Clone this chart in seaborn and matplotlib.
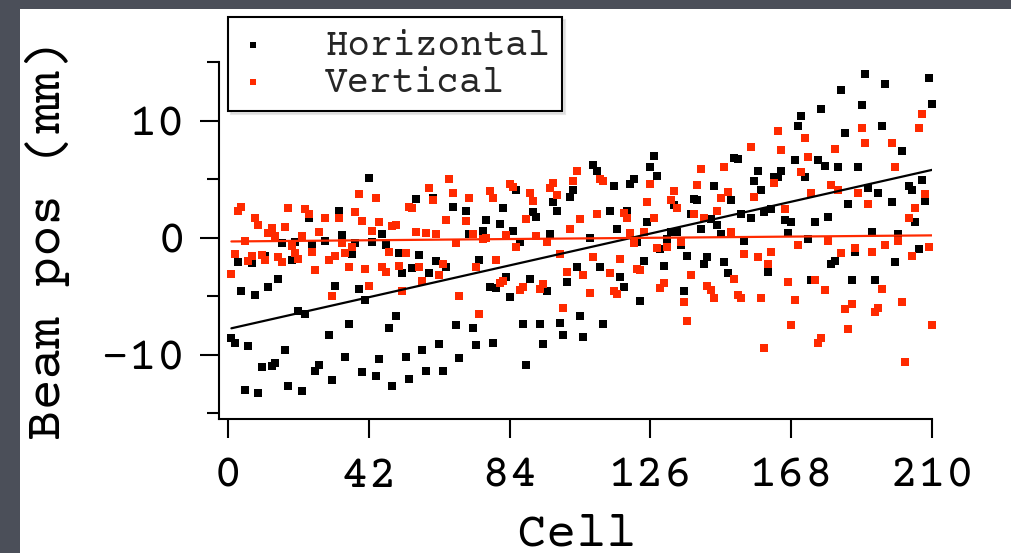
import matplotlib.pyplot as plt
import matplotlib.patches as mpatches
from matplotlib import font_manager
import pandas as pd
import seaborn as sns

# cell index and beam position (mm)
h_cell = [*range(1, 28), *range(29, 66), *range(67, 70), *range(71, 107),
          *range(108, 113), *range(114, 155), *range(156, 197),
          *range(198, 202), *range(203, 211)]
h_pos = [
    -8.6, -9.0, -2.1, -4.6, -13.0, -9.3, -2.2, -4.9, -13.3, -11.1,
    -1.6, -4.2, -11.0, -10.7, -3.5, -0.5, -9.6, -12.7, -1.9, -0.4,
    -6.3, -13.1, -6.5, 1.7, -0.6, -11.4, -10.9,
    -0.3, -8.3, -12.2, -4.1, 2.3, 0.2, -10.2, -7.4, -1.4, -0.5,
    -4.4, -11.5, -5.3, 5.1, -0.4, -11.8, -10.4, 0.3, -0.6, -7.7,
    -12.7, -6.7, -1.3, -3.0, -10.2, -12.1, -2.6, 3.3, -1.5, -9.6,
    -11.4, -3.0, 3.4, -2.0, -9.1, -11.4, -2.5,
    2.6, -7.5, -10.3,
    2.3, 0.3, -7.7, -9.2, -1.9, 0.6, 1.5, -4.2, -9.0, -4.3,
    1.2, 2.5, -3.4, -5.1, 0.6, 4.1, -0.4, -7.4, -10.9, -3.5,
    2.2, 1.8, -7.4, -9.1, -4.6, 0.3, 3.0, 2.3, -7.3, -8.3,
    -3.8, 3.5, 4.1, -2.5, -6.7, -8.5,
    0.0, 6.2, 5.7, -2.5, -7.4,
    2.3, 4.4, 0.7, -3.4, -4.2, 2.3, 4.6, 5.0, -0.4, -5.4,
    -2.0, 1.3, 6.0, 7.0, 5.3, -1.0, -2.4, -0.1, 0.5, 2.8,
    0.5, -0.6, -4.6, -1.6, 2.0, 3.3, 3.2, 0.7, -2.3, -1.7,
    1.6, 4.4, 1.1, 0.3, -2.1, -3.0, 3.2, 6.8, 6.7, 2.0, -0.3,
    1.7, 4.8, 5.7, 4.1, 2.2, -2.9, 2.4, 5.2, 5.2, 5.7,
    1.5, 0.4, 1.3, 6.6, 9.5, 10.4, 5.2, -0.1, -3.6, 1.3,
    6.6, 11.0, 6.1, 1.8, -2.3, -2.0, 6.0, 12.6, 8.9, 2.9,
    -3.6, -1.2, 6.0, 11.3, 14.0, 4.2, 0.5, -3.6, 3.8, 9.5, 13.1,
    3.0, -2.1, 0.3, 7.4,
    4.4, 4.1, 1.3, -1.0, 4.9, 3.1, 13.6, 11.4,
]

v_cell = [*range(1, 28), *range(29, 70), *range(71, 107), *range(108, 113),
          *range(114, 155), *range(156, 197), *range(198, 211)]
v_pos = [
    -3.1, -1.4, 2.3, 2.6, -0.3, -2.0, -1.6, 1.7, 1.1, -1.5,
    -1.9, 0.4, 0.8, 0.1, -1.7, -2.1, 0.9, 2.5, -0.7, -1.3,
    -1.8, 0.1, 2.4, 2.0, -1.2, -2.8, 0.5,
    1.7, -1.9, -5.0, -1.6, 1.7, -0.5, -1.3, -2.5, -0.8, 2.2,
    3.7, 1.4, -2.7, -4.1, 0.6, 3.4, 1.3, -2.5, -2.9, -1.2,
    1.0, 1.1, -2.4, -4.6, -1.3, 2.6, 2.5, 0.5, -2.5, -3.7,
    0.4, 4.2, 3.2, 0.3, -3.2, -2.3, 1.5, 5.0, 3.8, -0.5, -5.0,
    1.4, 3.4, 0.3, -2.5, -6.5, -0.1, 0.0, 4.0, 3.4, -1.9,
    -3.9, -3.7, 0.2, 4.6, 4.3, -0.8, -4.5, -4.2, 1.6, 3.8,
    3.1, 0.1, -4.4, -4.0, -0.4, 4.2, 4.7, 3.6, -1.4, -6.0,
    -2.9, 0.7, 4.8, 5.7, 1.6, -3.2,
    -4.7, -1.7, 2.0, 5.0, 4.8,
    -3.0, -4.6, -4.8, -1.8, 2.1, 1.7, 0.4, -0.5, -2.7, -2.8,
    0.5, 3.0, 4.6, 1.7, -0.9, -4.3, -3.9, -0.8, 3.2, 4.0,
    2.5, -0.4, -5.5, -7.1, -3.2, 2.0, 4.5, 5.9, 1.7, -4.1,
    -4.5, -5.2, 2.3, 3.4, 6.0, 3.9, 0.5, -3.5, -4.9, -5.2, -1.4,
    7.7, 3.5, -1.7, -5.2, -9.4, -2.3, -1.2, 4.7, 9.1, 7.5,
    2.4, -3.8, -7.5, -5.3, -0.6, 5.6, 8.5, 6.9, 3.8, -3.6,
    -9.0, -8.6, -4.5, -0.3, 4.5, 7.6, 4.1, -1.3, -6.1, -7.8,
    -5.7, -0.9, 3.8, 9.4, 8.1, 2.9, -1.2, -6.4, -6.0, -4.4, -0.6,
    8.1, 6.0, -0.3, -5.5, -10.6, 1.7, -1.6, 2.5, 9.4, 10.6, 3.7, -0.8, -7.5,
]

x_ticks = [0, 42, 84, 126, 168, 210]
y_ticks = [-10, 0, 10]
y_minor = [-15, -5, 5, 15]

RED = "#ff2a00"

sns.set_style("ticks")
installed = {f.name for f in font_manager.fontManager.ttflist}
mono = [n for n in ["Courier Prime", "Nimbus Mono PS", "Liberation Mono",
                    "Cousine", "DejaVu Sans Mono"] if n in installed]
plt.rcParams["font.family"] = mono + ["DejaVu Sans"]

h_df = pd.DataFrame({"cell": h_cell, "pos": h_pos})
v_df = pd.DataFrame({"cell": v_cell, "pos": v_pos})

W, H = 1012, 553
fig = plt.figure(figsize=(W / 100, H / 100), dpi=100, facecolor="#4b4f59")
fig.patches.append(
    mpatches.Rectangle((20 / W, 0), 1, 1 - 9 / H, transform=fig.transFigure,
                       facecolor="white", edgecolor="none", zorder=-5)
)
ax = fig.add_axes([219 / W, 1 - 419 / H, 713 / W, 357 / H])
ax.set_facecolor("white")

sns.scatterplot(data=h_df, x="cell", y="pos", color="black", marker="s", s=33,
                linewidth=0, clip_on=False, label="Horizontal", ax=ax)
sns.scatterplot(data=v_df, x="cell", y="pos", color=RED, marker="s", s=33,
                linewidth=0, clip_on=False, label="Vertical", ax=ax)
sns.regplot(data=h_df, x="cell", y="pos", scatter=False, ci=None, color="black",
            line_kws={"linewidth": 1.6}, ax=ax)
sns.regplot(data=v_df, x="cell", y="pos", scatter=False, ci=None, color=RED,
            line_kws={"linewidth": 1.6}, ax=ax)

ax.set_xlim(-2.7, 210)
ax.set_ylim(-15.5, 15)
ax.set_xticks(x_ticks)
ax.set_yticks(y_ticks)
ax.set_yticks(y_minor, minor=True)
ax.set_xlabel("")
ax.set_ylabel("")
ax.tick_params(which="major", direction="out", length=14, width=1.5,
               labelsize=34, color="black", labelcolor="black")
ax.tick_params(axis="y", which="minor", direction="out", length=8.5, width=1.5,
               color="black")
ax.tick_params(axis="y", pad=10)
ax.tick_params(axis="x", pad=13)
sns.despine(ax=ax)
for side in ["left", "bottom"]:
    ax.spines[side].set_linewidth(1.5)
    ax.spines[side].set_color("black")

fig.text(48 / W, 1 - 240 / H, "Beam pos (mm)", rotation=90, ha="center",
         va="center", fontsize=37, color="black")
fig.text(576 / W, 1 - 546 / H, "Cell", ha="center", va="baseline",
         fontsize=36, color="black")

leg = ax.legend(loc="upper left", bbox_to_anchor=(228 / W, 1 - 17 / H),
                bbox_transform=fig.transFigure, borderaxespad=0, fontsize=27,
                frameon=True, fancybox=False, edgecolor="black", framealpha=1,
                borderpad=0.32, labelspacing=0.1, handlelength=0.7,
                handletextpad=1.57, markerscale=0.8, shadow={"color": "0.82"})
leg.get_frame().set_linewidth(1.5)
leg.set_zorder(10)

fig.savefig("out.png", dpi=100, facecolor=fig.get_facecolor())
plt.close(fig)
